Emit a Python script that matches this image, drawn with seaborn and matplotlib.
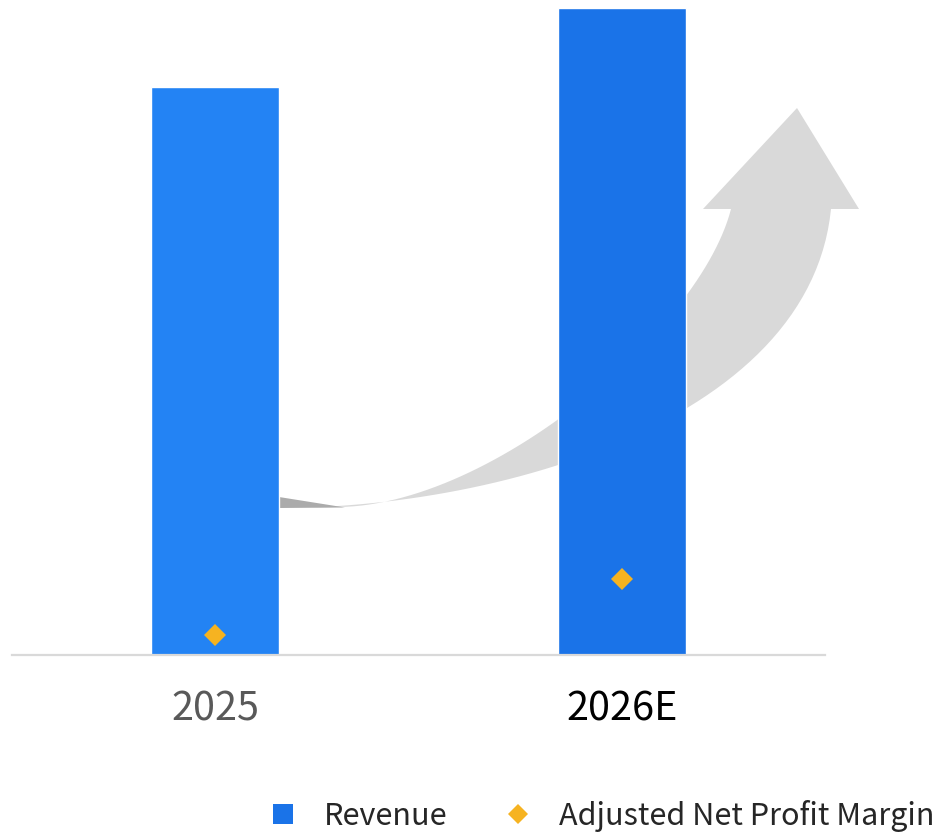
import matplotlib
matplotlib.use("Agg")
import matplotlib.pyplot as plt
import numpy as np
import pandas as pd
import seaborn as sns
from matplotlib.patches import Polygon
from matplotlib.lines import Line2D

# data
years = ["2025", "2026E"]
revenue = [100, 114]
net_margin = [1.3, 5.0]
bar_colors = ["#2383F4", "#1A73E8"]
tick_colors = ["#595959", "#000000"]

sns.set_style("white")
plt.rcParams['font.family'] = ['Noto Sans CJK SC', 'DejaVu Sans']

W, H = 941, 834
fig = plt.figure(figsize=(W / 100, H / 100), dpi=100)
ax = fig.add_axes([12 / W, (H - 655) / H, 813 / W, 647 / H])

df = pd.DataFrame({"year": years, "revenue": revenue, "margin": net_margin})

# background growth arrow (decoration, in figure pixels)
def px(pts):
    return [(x / W, 1 - y / H) for x, y in pts]

def bezier(p0, p1, p2, p3, n=60):
    t = np.linspace(0, 1, n)[:, None]
    p0, p1, p2, p3 = map(np.array, (p0, p1, p2, p3))
    return ((1 - t) ** 3) * p0 + 3 * ((1 - t) ** 2) * t * p1 + 3 * (1 - t) * t ** 2 * p2 + t ** 3 * p3

lower = bezier((279, 508), (500, 508), (810, 420), (831, 209))
upper = bezier((338, 507), (490, 506), (700, 330), (731, 209))
outline = list(map(tuple, lower)) + [(859, 209), (797, 108), (703, 209)] + list(map(tuple, upper[::-1]))
ax.add_patch(Polygon(px(outline), closed=True, facecolor="#D9D9D9", edgecolor="none",
                     transform=fig.transFigure, zorder=0.5, clip_on=False))
ax.add_patch(Polygon(px([(279, 497), (279, 508), (345, 507.5)]), closed=True, facecolor="#ABABAB",
                     edgecolor="none", transform=fig.transFigure, zorder=0.6, clip_on=False))

sns.barplot(data=df, x="year", y="revenue", hue="year", palette=bar_colors, width=0.315,
            saturation=1, legend=False, ax=ax, zorder=2)
ax.set_xlim(-0.5, 1.5)
ax.set_ylim(0, 114)
ax.set_xlabel("")
ax.set_ylabel("")
ax.set_yticks([])
ax.tick_params(axis="x", length=0, pad=25, labelsize=28.5)
for lbl, c in zip(ax.get_xticklabels(), tick_colors):
    lbl.set_color(c)
for s in ["top", "right", "left"]:
    ax.spines[s].set_visible(False)
ax.spines["bottom"].set_color("#D9D9D9")
ax.spines["bottom"].set_linewidth(1.6)

ax2 = ax.twinx()
ax2.plot(range(len(years)), net_margin, linestyle="none", marker="D", markersize=11.5,
         color="#F6B321", markeredgewidth=0)
ax2.set_ylim(0, 42.7)
ax2.set_yticks([])
for s in ax2.spines.values():
    s.set_visible(False)

handles = [
    Line2D([], [], linestyle="none", marker="s", markersize=14, color="#1A73E8", markeredgewidth=0),
    Line2D([], [], linestyle="none", marker="D", markersize=10.5, color="#F6B321", markeredgewidth=0),
]
fig.legend(handles, ["Revenue", "Adjusted Net Profit Margin"], loc="center",
           bbox_to_anchor=(601 / W, 1 - 816 / H), ncol=2, frameon=False, fontsize=22,
           handletextpad=0.85, columnspacing=1.8, handlelength=1.0, borderpad=0)

fig.savefig("out.png", dpi=100)
